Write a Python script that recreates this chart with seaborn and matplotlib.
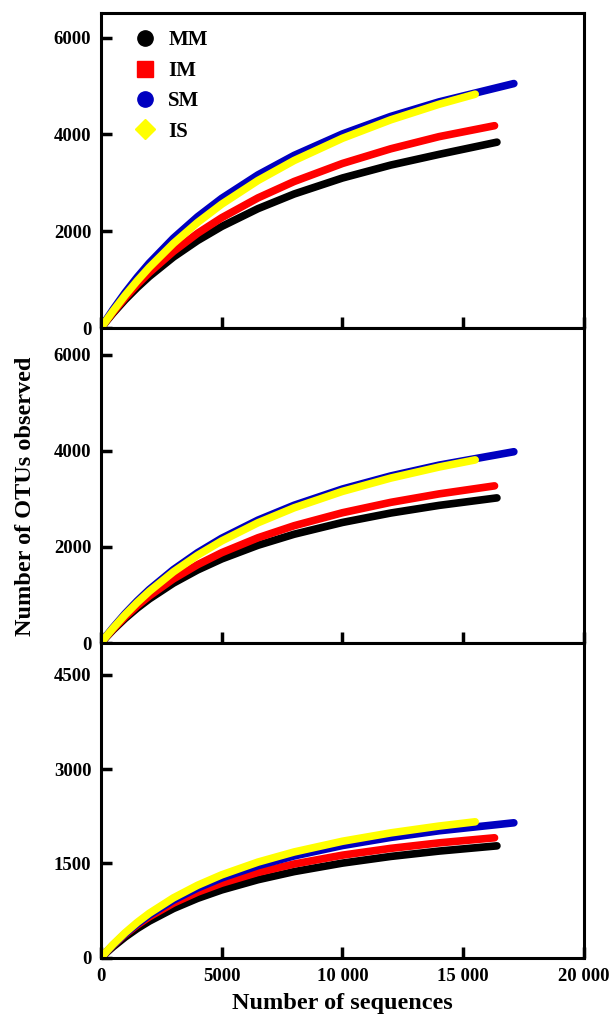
import seaborn as sns
import pandas as pd
import matplotlib.pyplot as plt
from matplotlib.lines import Line2D

sns.set_style("ticks")
plt.rcParams['font.family'] = ['Liberation Serif', 'DejaVu Serif']
plt.rcParams['font.weight'] = 'bold'
plt.rcParams['text.color'] = 'black'
plt.rcParams['axes.labelcolor'] = 'black'
plt.rcParams['xtick.color'] = 'black'
plt.rcParams['ytick.color'] = 'black'

groups = ["MM", "IM", "SM", "IS"]
colors = {"MM": "#000000", "IM": "#ff0000", "SM": "#0000c0", "IS": "#ffff00"}
markers = {"MM": "o", "IM": "s", "SM": "o", "IS": "D"}

# sequence depths (last value = end of each curve)
x_common = [0, 250, 500, 1000, 1500, 2000, 3000, 4000, 5000, 6500, 8000, 10000, 12000, 14000]
x_end = {"MM": 16400, "IM": 16300, "SM": 17100, "IS": 15500}

# top panel
p1_mm = [0, 158, 309, 587, 838, 1067, 1468, 1808, 2100, 2467, 2770, 3100, 3367, 3588, 3840]
p1_im = [0, 169, 329, 627, 899, 1147, 1584, 1958, 2280, 2689, 3028, 3400, 3703, 3954, 4180]
p1_sm = [0, 197, 385, 734, 1052, 1344, 1858, 2299, 2680, 3164, 3567, 4009, 4371, 4671, 5050]
p1_is = [0, 180, 353, 678, 977, 1254, 1750, 2182, 2560, 3048, 3461, 3920, 4301, 4622, 4830]

# middle panel
p2_mm = [0, 140, 272, 512, 726, 917, 1247, 1520, 1750, 2034, 2264, 2509, 2705, 2864, 3020]
p2_im = [0, 149, 289, 545, 774, 979, 1335, 1630, 1880, 2190, 2441, 2711, 2927, 3103, 3270]
p2_sm = [0, 166, 323, 613, 875, 1113, 1528, 1879, 2180, 2557, 2867, 3204, 3476, 3701, 3980]
p2_is = [0, 159, 309, 588, 842, 1074, 1481, 1827, 2125, 2502, 2814, 3155, 3432, 3662, 3810]

# bottom panel
p3_mm = [0, 92, 177, 331, 466, 584, 784, 946, 1080, 1242, 1371, 1506, 1612, 1697, 1780]
p3_im = [0, 105, 201, 373, 523, 653, 871, 1045, 1187, 1358, 1492, 1632, 1740, 1827, 1908]
p3_sm = [0, 106, 205, 384, 541, 681, 917, 1110, 1270, 1465, 1620, 1785, 1914, 2019, 2146]
p3_is = [0, 111, 214, 400, 564, 709, 954, 1154, 1320, 1522, 1683, 1853, 1986, 2094, 2162]

panels = [
    {"MM": p1_mm, "IM": p1_im, "SM": p1_sm, "IS": p1_is},
    {"MM": p2_mm, "IM": p2_im, "SM": p2_sm, "IS": p2_is},
    {"MM": p3_mm, "IM": p3_im, "SM": p3_sm, "IS": p3_is},
]
y_limits = [6500, 6550, 5000]
y_ticks = [[0, 2000, 4000, 6000], [0, 2000, 4000, 6000], [0, 1500, 3000, 4500]]

rows = []
for i, pan in enumerate(panels):
    for g in groups:
        xs = x_common + [x_end[g]]
        for xv, yv in zip(xs, pan[g]):
            rows.append({"panel": i, "group": g, "seqs": xv, "otus": yv})
df = pd.DataFrame(rows)

fig, axes = plt.subplots(3, 1, figsize=(6.12, 10.24), dpi=100, sharex=True)
fig.subplots_adjust(left=0.165, right=0.954, top=0.987, bottom=0.0645, hspace=0)

for i, ax in enumerate(axes):
    sns.lineplot(data=df[df.panel == i], x="seqs", y="otus", hue="group",
                 hue_order=groups, palette=colors, linewidth=5.5,
                 estimator=None, sort=False, legend=False, ax=ax)
    for ln in ax.lines:
        ln.set_solid_capstyle("round")
    ax.set_xlim(0, 20000)
    ax.set_ylim(0, y_limits[i])
    ax.set_yticks(y_ticks[i])
    ax.set_xticks([0, 5000, 10000, 15000, 20000])
    ax.set_xticklabels(["0", "5000", "10 000", "15 000", "20 000"])
    ax.set_xlabel("")
    ax.set_ylabel("")
    ax.tick_params(direction="in", length=8, width=2.5, labelsize=13.5, pad=7,
                   bottom=True, left=True, top=False, right=False)
    for lab in ax.get_xticklabels() + ax.get_yticklabels():
        lab.set_fontweight("bold")
    for sp in ax.spines.values():
        sp.set_linewidth(2.2)
        sp.set_color("black")

handles = [Line2D([], [], linestyle="none", marker=markers[g], markersize=11 if g != "IS" else 10,
                  markerfacecolor=colors[g], markeredgecolor=colors[g]) for g in groups]
axes[0].legend(handles, groups, loc="upper left", frameon=False,
               bbox_to_anchor=(0.01, 1.005), handletextpad=0.1, labelspacing=0.5,
               prop={"weight": "bold", "size": 15})

axes[2].set_xlabel("Number of sequences", fontsize=17.5, fontweight="bold", labelpad=6)
fig.text(0.042, 0.515, "Number of OTUs observed", rotation=90, ha="center", va="center",
         fontsize=17.5, fontweight="bold")

fig.savefig("out.png", dpi=100)
